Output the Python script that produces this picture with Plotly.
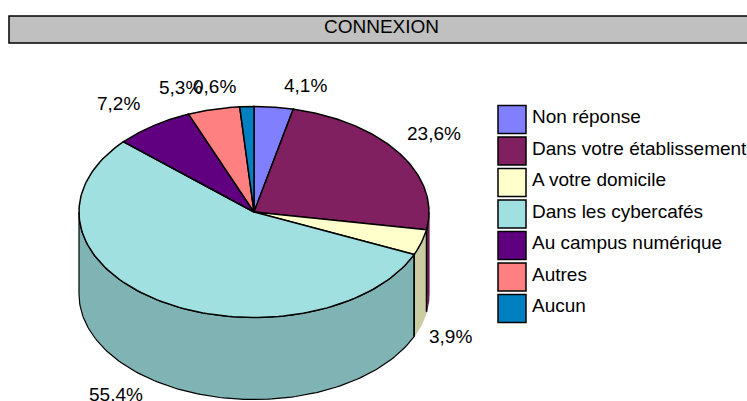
import numpy as np
import plotly.graph_objects as go

# Slices, clockwise from the top of the pie
categories = ['Non réponse', 'Dans votre établissement', 'A votre domicile', 'Dans les cybercafés',
              'Au campus numérique', 'Autres', 'Aucun']
value_labels = ['4,1%', '23,6%', '3,9%', '55,4%', '7,2%', '5,3%', '0,6%']
# Slice sizes as drawn in the picture (the labels above do not quite match them)
slice_sizes = [3.6, 24.1, 3.9, 55.0, 7.3, 4.8, 1.3]

top_colors = ['#8080ff', '#802060', '#ffffcc', '#a0e0e0', '#600080', '#ff8080', '#0080c0']
side_colors = ['#6666cc', '#661a4d', '#cccca3', '#80b3b3', '#4d0066', '#cc6666', '#006699']
# Only the big slice has a black outline along the bottom of its wall
side_edge_colors = ['#6666cc', '#661a4d', '#cccca3', 'black', '#4d0066', '#cc6666', '#006699']

# Pie geometry, in pixels
CX, CY = 254, 212
RX, RY = 175, 105.5
DEPTH = 82

# Label centres, in pixels
label_x = [305, 434, 450, 116, 118, 180, 214]
label_y = [85, 133, 336, 394, 103, 87, 86]

FONT = 'Liberation Sans, Arial, sans-serif'
FONT_SIZE = 19


def rim(angles, drop=0):
    rad = np.radians(angles)
    return CX + RX * np.sin(rad), CY - RY * np.cos(rad) + drop


fig = go.Figure()

edges = np.concatenate([[0], np.cumsum(slice_sizes)]) / np.sum(slice_sizes) * 360

# Side wall of the pie, only the front half is visible
for i in range(len(slice_sizes)):
    start, end = max(edges[i], 90), min(edges[i + 1], 270)
    if start >= end:
        continue
    angles = np.linspace(start, end, 120)
    x_top, y_top = rim(angles)
    x_bot, y_bot = rim(angles[::-1], DEPTH)
    fig.add_trace(go.Scatter(x=np.concatenate([x_top, x_bot, x_top[:1]]),
                             y=np.concatenate([y_top, y_bot, y_top[:1]]),
                             mode='lines', fill='toself', fillcolor=side_colors[i],
                             line=dict(color=side_edge_colors[i], width=1.2), hoverinfo='skip'))

# Vertical lines between the visible walls
for edge in edges:
    if 90 < edge < 270:
        x0, y0 = rim(np.array([edge]))
        x1, y1 = rim(np.array([edge]), DEPTH)
        fig.add_trace(go.Scatter(x=[x0[0], x1[0]], y=[y0[0], y1[0]], mode='lines',
                                 line=dict(color='black', width=1.5), hoverinfo='skip'))

# Top face of the pie
for i in range(len(slice_sizes)):
    angles = np.linspace(edges[i], edges[i + 1], 120)
    x_arc, y_arc = rim(angles)
    fig.add_trace(go.Scatter(x=np.concatenate([[CX], x_arc, [CX]]),
                             y=np.concatenate([[CY], y_arc, [CY]]),
                             mode='lines', fill='toself', fillcolor=top_colors[i],
                             line=dict(color='black', width=1.5), name=categories[i],
                             hoverinfo='name'))

annotations = [dict(x=381, y=26, text='CONNEXION', showarrow=False,
                    font=dict(family=FONT, size=FONT_SIZE, color='black'))]
for x, y, text in zip(label_x, label_y, value_labels):
    annotations.append(dict(x=x, y=y, text=text, showarrow=False,
                            font=dict(family=FONT, size=FONT_SIZE, color='black')))

# Title bar runs off the right side of the page
shapes = [dict(type='rect', x0=9, x1=760, y0=16, y1=43, fillcolor='#c0c0c0',
               line=dict(color='black', width=1.5), layer='below')]

# Legend
for i, name in enumerate(categories):
    y_mid = 119.5 + 31.5 * i
    shapes.append(dict(type='rect', x0=498, x1=526, y0=y_mid - 14, y1=y_mid + 14,
                       fillcolor=top_colors[i], line=dict(color='black', width=1.5)))
    annotations.append(dict(x=530, y=y_mid - 3, text=name, showarrow=False, xanchor='left',
                            font=dict(family=FONT, size=FONT_SIZE, color='black')))

fig.update_layout(
    width=747, height=401,
    margin=dict(l=0, r=0, t=0, b=0),
    paper_bgcolor='white', plot_bgcolor='white',
    showlegend=False,
    xaxis=dict(range=[0, 747], visible=False, fixedrange=True),
    yaxis=dict(range=[401, 0], visible=False, fixedrange=True),
    shapes=shapes,
    annotations=annotations
)

fig.write_html("out.html", config=dict(displayModeBar=False),
               post_script="document.body.style.margin='0';")
